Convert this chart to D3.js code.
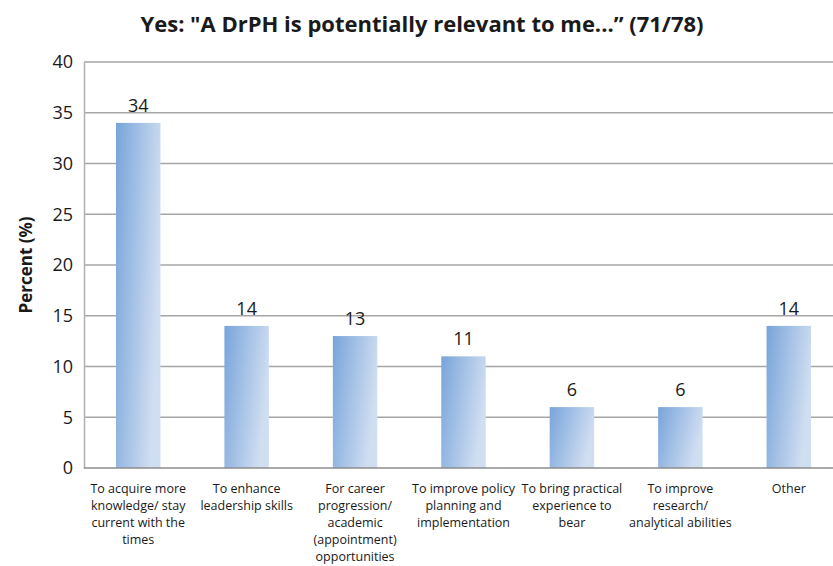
<!DOCTYPE html>
<html>
<head>
<meta charset="utf-8">
<script src="https://cdnjs.cloudflare.com/ajax/libs/d3/7.8.5/d3.min.js"></script>
<style>
  body { margin: 0; background: #fff; }
  svg { display: block; font-family: "Open Sans", sans-serif; }
</style>
</head>
<body>
<div id="chart"></div>
<script>
// data
var categories = [
  ["To acquire more", "knowledge/ stay", "current with the", "times"],
  ["To enhance", "leadership skills"],
  ["For career", "progression/", "academic", "(appointment)", "opportunities"],
  ["To improve policy", "planning and", "implementation"],
  ["To bring practical", "experience to", "bear"],
  ["To improve", "research/", "analytical abilities"],
  ["Other"]
];
var values = [34, 14, 13, 11, 6, 6, 14];
var yTicks = [0, 5, 10, 15, 20, 25, 30, 35, 40];
var title = "Yes: \"A DrPH is potentially relevant to me...\u201D (71/78)";
var yTitle = "Percent (%)";

var W = 833, H = 566;
var margin = {top: 62, right: -10, bottom: 98, left: 84};
var width = W - margin.left - margin.right,
    height = H - margin.top - margin.bottom;

var svg = d3.select("#chart").append("svg")
  .attr("width", W)
  .attr("height", H);

var defs = svg.append("defs");
var grad = defs.append("linearGradient")
  .attr("id", "barGrad")
  .attr("x1", "0").attr("y1", "0")
  .attr("x2", "1").attr("y2", "0.35");
grad.append("stop").attr("offset", "0%").attr("stop-color", "#78a4da");
grad.append("stop").attr("offset", "100%").attr("stop-color", "#d0def1");

var g = svg.append("g")
  .attr("transform", "translate(" + margin.left + "," + margin.top + ")");

var idx = d3.range(values.length);
var x = d3.scaleBand()
  .domain(idx)
  .range([0, width])
  .paddingInner(0.59)
  .paddingOuter(0.295);

var y = d3.scaleLinear()
  .domain([0, 40])
  .range([height, 0]);

// gridlines
g.selectAll(".grid")
  .data(yTicks.filter(function (d) { return d > 0; }))
  .enter().append("line")
  .attr("x1", 0).attr("x2", width)
  .attr("y1", function (d) { return y(d); })
  .attr("y2", function (d) { return y(d); })
  .attr("stroke", "#a6a6a6")
  .attr("stroke-width", 1.5);

// y axis
var yAxis = g.append("g")
  .call(d3.axisLeft(y).tickValues(yTicks).tickSize(0).tickPadding(11));
yAxis.select(".domain").attr("stroke", "#b0b0b0").attr("stroke-width", 1.5);
yAxis.selectAll("text")
  .attr("font-family", "Open Sans, sans-serif")
  .attr("font-size", 18)
  .attr("fill", "#1a1a1a");

// bars
g.selectAll(".bar")
  .data(values)
  .enter().append("rect")
  .attr("x", function (d, i) { return x(i); })
  .attr("y", function (d) { return y(d); })
  .attr("width", x.bandwidth())
  .attr("height", function (d) { return height - y(d); })
  .attr("fill", "url(#barGrad)");

// bottom axis line
g.append("line")
  .attr("x1", 0).attr("x2", width)
  .attr("y1", height).attr("y2", height)
  .attr("stroke", "#8c8c8c")
  .attr("stroke-width", 1.5);

// value labels
g.selectAll(".val")
  .data(values)
  .enter().append("text")
  .attr("x", function (d, i) { return x(i) + x.bandwidth() / 2; })
  .attr("y", function (d) { return y(d) - 11; })
  .attr("text-anchor", "middle")
  .attr("font-size", 18)
  .attr("fill", "#1a1a1a")
  .text(function (d) { return d; });

// category labels
var cat = g.selectAll(".cat")
  .data(categories)
  .enter().append("text")
  .attr("text-anchor", "middle")
  .attr("font-size", 12.5)
  .attr("fill", "#1a1a1a")
  .attr("transform", function (d, i) {
    return "translate(" + (x(i) + x.bandwidth() / 2) + "," + (height + 25) + ")";
  });
cat.selectAll("tspan")
  .data(function (d) { return d; })
  .enter().append("tspan")
  .attr("x", 0)
  .attr("y", function (d, i) { return i * 17; })
  .text(function (d) { return d; });

// title
svg.append("text")
  .attr("x", 422)
  .attr("y", 32)
  .attr("text-anchor", "middle")
  .attr("font-size", 22)
  .attr("font-weight", "bold")
  .attr("fill", "#1a1a1a")
  .text(title);

// y axis title
svg.append("text")
  .attr("transform", "translate(32," + (margin.top + height / 2) + ") rotate(-90)")
  .attr("text-anchor", "middle")
  .attr("font-size", 17)
  .attr("font-weight", "bold")
  .attr("fill", "#1a1a1a")
  .text(yTitle);
</script>
</body>
</html>
